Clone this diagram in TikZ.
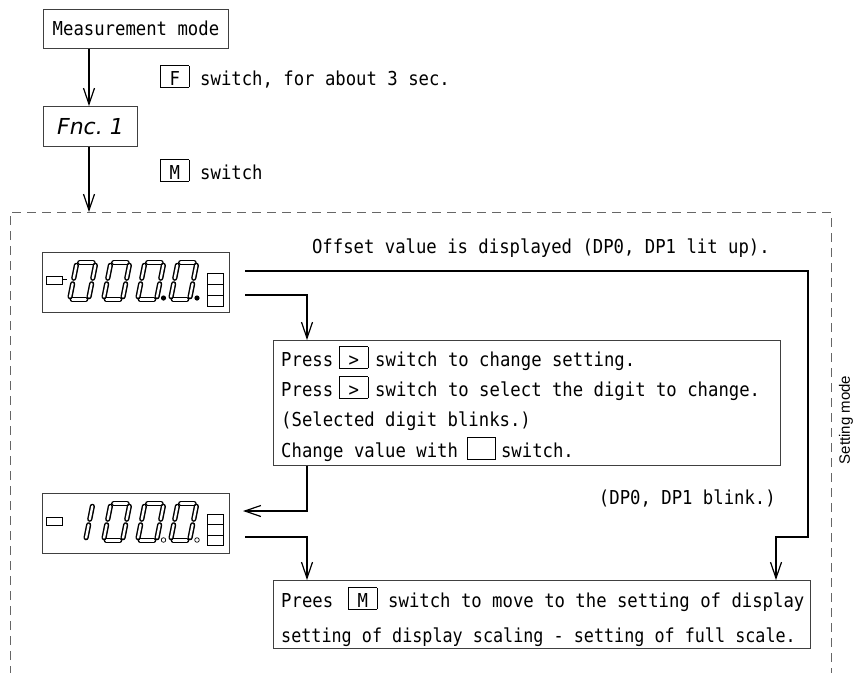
\documentclass[tikz,border=0pt]{standalone}
\usepackage{fontspec}
\usepackage{graphicx}
\usetikzlibrary{arrows.meta}
\newfontfamily\monofont{DejaVu Sans Mono}[FakeStretch=0.9]
\newfontfamily\labelfont{Liberation Sans}
\newfontfamily\segfont{DejaVu Sans}
\newcommand\keybox[1]{{\setlength{\fboxsep}{0pt}\setlength{\fboxrule}{0.7pt}\fbox{\makebox[27.6pt]{\rule[-2pt]{0pt}{21pt}#1}}}}
\newcommand\segline[6]{\draw[seg] ({#1+#3+0.2*#4},{#2-#4}) -- ({#1+#5+0.2*#6},{#2-#6});}
\newcommand\dzero[2]{%
 \segline{#1}{#2}{2.8}{37}{16.2}{37}%
 \segline{#1}{#2}{19}{34.2}{19}{21.3}%
 \segline{#1}{#2}{19}{15.7}{19}{2.8}%
 \segline{#1}{#2}{2.8}{0}{16.2}{0}%
 \segline{#1}{#2}{0}{2.8}{0}{15.7}%
 \segline{#1}{#2}{0}{21.3}{0}{34.2}}
\newcommand\done[2]{%
 \segline{#1}{#2}{19}{34.2}{19}{21.3}%
 \segline{#1}{#2}{19}{15.7}{19}{2.8}}
\tikzset{
  box/.style={draw=black!75, line width=0.9pt, inner sep=0pt},
  txt/.style={inner sep=0pt, font=\monofont\fontsize{19.2}{23}\selectfont},
  arr/.style={draw=black, line width=1.2pt, -{Straight Barb[length=16pt,width=11pt]}},
  dashbox/.style={draw=black!60, line width=0.8pt, dash pattern=on 9pt off 6pt},
  seg/.style={draw=black, line width=1.45pt, double=white, double distance=2.3pt, line cap=round},
  thinbox/.style={draw=black, line width=0.8pt}
}
\begin{document}
\begin{tikzpicture}[x=1pt,y=-1pt]
\useasboundingbox (0,0) rectangle (862,672);

% top part
\node[box, txt, anchor=north west, minimum width=185pt, minimum height=39pt, text height=14pt, text depth=0pt] (meas) at (43,9) {Measurement mode};
\node[box, anchor=north west, minimum width=94pt, minimum height=40pt, text height=16pt, text depth=0pt, font=\segfont\itshape\fontsize{22}{26}\selectfont] (fnc) at (43,106) {Fnc.\hspace{7pt}1};
\node[txt, anchor=base west] (lblF) at (160,85) {\keybox{F}\hspace{11pt}switch, for about 3 sec.};
\node[txt, anchor=base west] (lblM) at (160,179) {\keybox{M}\hspace{11pt}switch};

\coordinate (ax) at (89,0);
\coordinate (dtop) at (89,212);
\draw[arr] (ax |- meas.south) -- (ax |- fnc.north);
\draw[arr] (ax |- fnc.south) -- (dtop);

% dashed setting-mode frame
\draw[dashbox] (10,690) |- (831,212) -- (831,690);
\node[rotate=90, inner sep=0pt, font=\labelfont\fontsize{15}{18}\selectfont] (smode) at (846,420) {Setting mode};

\node[txt, anchor=base east] (offs) at (770,253) {Offset value is displayed (DP0, DP1 lit up).};

% display 1
\node[box, anchor=north west, minimum width=187pt, minimum height=60pt] (disp1) at (42,252) {};
\draw[thinbox] (46,276) rectangle (62,284);
\draw[line width=1pt] (62,279) -- (67,279);
\dzero{69.5}{299.5}
\dzero{103.5}{299.5}
\dzero{137.5}{299.5}
\dzero{170.5}{299.5}
\fill (163.5,298) circle (2.6pt);
\fill (197,298) circle (2.6pt);
\draw[thinbox] (207,273) rectangle (223,284);
\draw[thinbox] (207,284) rectangle (223,295);
\draw[thinbox] (207,295) rectangle (223,306);

% display 2
\node[box, anchor=north west, minimum width=187pt, minimum height=60pt] (disp2) at (42,493) {};
\draw[thinbox] (46,517) rectangle (62,525);
\done{66.5}{540.5}
\dzero{103.5}{540.5}
\dzero{137.5}{540.5}
\dzero{170.5}{540.5}
\draw[line width=0.7pt] (163.5,540) circle (2.3pt);
\draw[line width=0.7pt] (197,540) circle (2.3pt);
\draw[thinbox] (207,514) rectangle (223,524.5);
\draw[thinbox] (207,524.5) rectangle (223,535);
\draw[thinbox] (207,535) rectangle (223,545.5);

% press box
\node[box, anchor=north west, minimum width=507pt, minimum height=125pt] (press) at (273,340) {};
\node[txt, anchor=base west] (p1) at (281,366) {Press\hspace{6pt}\keybox{>}\hspace{7pt}switch to change setting.};
\node[txt, anchor=base west] (p2) at (281,396) {Press\hspace{6pt}\keybox{>}\hspace{7pt}switch to select the digit to change.};
\node[txt, anchor=base west] (p3) at (281,426.5) {(Selected digit blinks.)};
\node[txt, anchor=base west] (p4) at (281,457) {Change value with\hspace{9pt}\keybox{}\hspace{5pt}switch.};

\node[txt, anchor=base east] (blink) at (776,504) {(DP0, DP1 blink.)};

% prees box
\node[box, anchor=north west, minimum width=537pt, minimum height=68pt] (prees) at (273,580) {};
\node[txt, anchor=base west] (q1) at (281,607) {Prees\hspace{15pt}\keybox{M}\hspace{11pt}switch to move to the setting of display};
\node[txt, anchor=base west] (q2) at (281,642) {\scalebox{0.97}[1]{setting of display scaling - setting of full scale.}};

% connectors
\coordinate (a1) at (245,271);
\coordinate (ra) at (808,537);
\coordinate (rx) at (776,0);
\coordinate (b1) at (245,295);
\coordinate (bx) at (307,0);
\coordinate (c1) at (243,511);
\coordinate (d1) at (245,537);
\draw[arr] (a1) -| (ra) -| (rx |- prees.north);
\draw[arr] (b1) -| (bx |- press.north);
\draw[arr] (bx |- press.south) |- (c1);
\draw[arr] (d1) -| (bx |- prees.north);
\end{tikzpicture}
\end{document}
